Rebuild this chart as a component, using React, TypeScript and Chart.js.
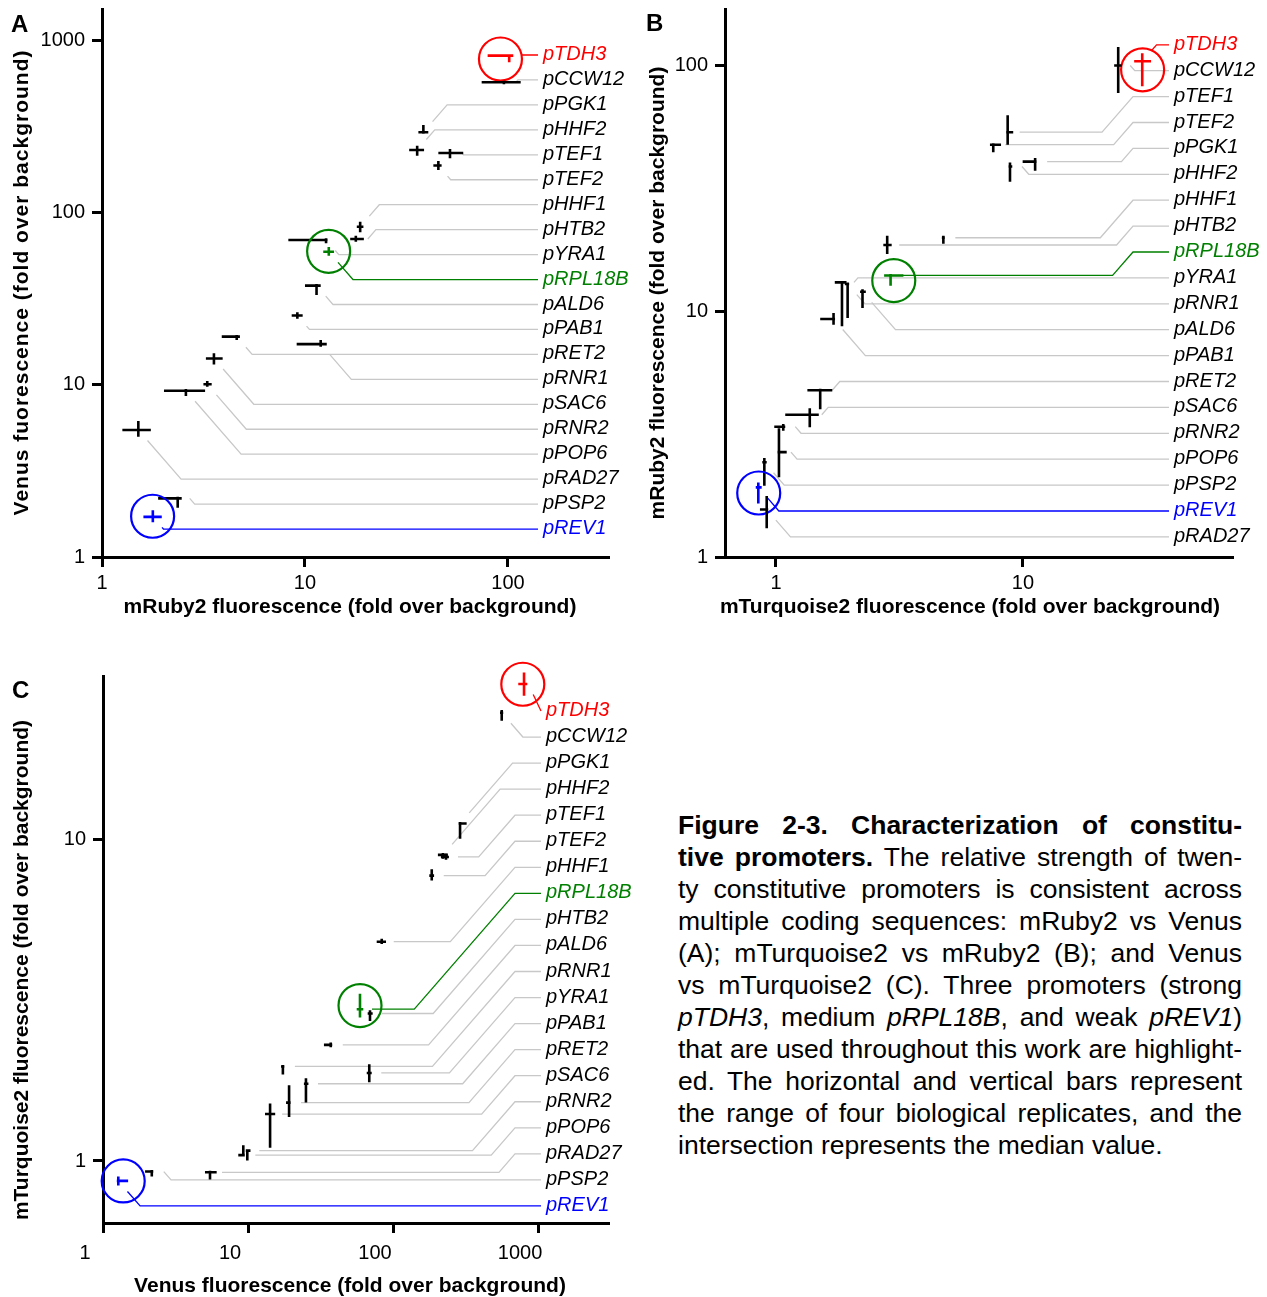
import React, { useEffect, useRef } from 'react';
import { Chart, registerables } from 'chart.js';

Chart.register(...registerables);

const FONT = '"Liberation Sans", Arial, Helvetica, sans-serif';
Chart.defaults.font.family = FONT;

const HILITE: Record<string, string> = { pTDH3: '#ff0000', pRPL18B: '#008000', pREV1: '#0000ff' };

// ---------- Panel A: x = mRuby2, y = Venus (label order) ----------
const namesA = ['pTDH3', 'pCCW12', 'pPGK1', 'pHHF2', 'pTEF1', 'pTEF2', 'pHHF1', 'pHTB2', 'pYRA1', 'pRPL18B', 'pALD6', 'pPAB1', 'pRET2', 'pRNR1', 'pSAC6', 'pRNR2', 'pPOP6', 'pRAD27', 'pPSP2', 'pREV1'];
const rubyMedA = [101.4, 95.5, 38.3, 35.7, 51.8, 45.4, 18.7, 17.8, 12.7, 13.1, 11.4, 9.17, 4.61, 11.95, 3.56, 3.3, 2.59, 1.51, 2.36, 1.78];
const rubyLoA = [79.4, 74.2, 36.2, 32.6, 45.4, 42.9, 18.0, 16.7, 8.28, 12.3, 10.0, 8.6, 3.89, 9.1, 3.25, 3.16, 2.02, 1.26, 1.89, 1.6];
const rubyHiA = [106.2, 115.5, 40.5, 38.6, 60.2, 47.1, 19.4, 19.5, 12.8, 13.9, 11.95, 9.74, 4.78, 12.8, 3.93, 3.47, 3.22, 1.74, 2.47, 1.97];
const venusMedA = [812, 569, 292, 230, 221, 187, 82.6, 70.1, 69.2, 59.1, 37.6, 25.2, 19.0, 17.2, 14.2, 10.05, 9.23, 5.46, 2.19, 1.71];
const venusLoA = [743, 554, 292, 213, 206, 176, 76.6, 67.6, 66.2, 56.1, 33.2, 24.1, 18.2, 16.6, 13.1, 9.74, 8.6, 4.99, 1.93, 1.59];
const venusHiA = [812, 579, 321, 244, 233, 199, 88.3, 73.2, 70.7, 63.0, 38.2, 26.3, 19.4, 18.2, 15.2, 10.5, 9.44, 6.16, 2.19, 1.87];

// ---------- Panel B: x = mTurquoise2, y = mRuby2 (label order) ----------
const namesB = ['pTDH3', 'pCCW12', 'pTEF1', 'pTEF2', 'pPGK1', 'pHHF2', 'pHHF1', 'pHTB2', 'pRPL18B', 'pYRA1', 'pRNR1', 'pALD6', 'pPAB1', 'pRET2', 'pSAC6', 'pRNR2', 'pPOP6', 'pPSP2', 'pREV1', 'pRAD27'];
const turqMedB = [30.4, 24.3, 8.67, 7.58, 11.2, 8.86, 4.76, 2.82, 2.91, 1.85, 1.95, 2.24, 1.71, 1.51, 1.37, 1.07, 1.028, 0.897, 0.848, 0.917];
const turqLoB = [28.2, 23.4, 8.67, 7.35, 9.97, 8.86, 4.73, 2.72, 2.74, 1.73, 1.9, 2.19, 1.51, 1.34, 1.09, 0.984, 1.028, 0.88, 0.828, 0.861];
const turqHiB = [33.0, 25.1, 9.13, 8.15, 11.3, 9.05, 4.79, 2.94, 3.28, 1.93, 1.96, 2.31, 1.73, 1.69, 1.49, 1.09, 1.105, 0.917, 0.875, 0.917];
const rubyMedB = [104, 100, 53.5, 47.6, 40.6, 38.8, 19.9, 18.6, 13.98, 13.1, 12.9, 12.0, 9.3, 4.77, 3.79, 3.39, 2.67, 2.43, 1.92, 1.56];
const rubyLoB = [82.3, 77.3, 47.6, 44.3, 37.3, 33.6, 18.8, 17.1, 12.7, 8.68, 9.38, 10.3, 8.81, 3.99, 3.37, 3.26, 2.11, 1.95, 1.65, 1.31];
const rubyHiB = [112, 119, 62.7, 47.6, 42.0, 40.3, 20.3, 20.3, 13.98, 13.1, 13.1, 12.3, 9.83, 4.83, 4.03, 3.48, 3.34, 2.53, 2.01, 1.77];

// ---------- Panel C: x = Venus, y = mTurquoise2 (label order) ----------
const namesC = ['pTDH3', 'pCCW12', 'pPGK1', 'pHHF2', 'pTEF1', 'pTEF2', 'pHHF1', 'pRPL18B', 'pHTB2', 'pALD6', 'pRNR1', 'pYRA1', 'pPAB1', 'pRET2', 'pSAC6', 'pRNR2', 'pPOP6', 'pRAD27', 'pPSP2', 'pREV1'];
const venusMedC = [801, 562, 290, 221, 232, 185, 83.6, 59.2, 69.4, 37.2, 17.4, 68.6, 25.1, 19.2, 14.2, 9.89, 9.28, 5.47, 2.17, 1.275];
const venusLoC = [731, 547, 290, 204, 214, 178, 77.2, 56.2, 66.9, 33.4, 16.9, 65.9, 24.3, 18.3, 13.1, 9.89, 8.57, 5.05, 1.95, 1.275];
const venusHiC = [844, 574, 322, 239, 243, 192, 89.5, 62.4, 72.4, 37.2, 17.8, 71.3, 26.1, 19.7, 15.4, 10.4, 9.28, 6.08, 2.17, 1.49];
const turqMedC = [30.6, 24.9, 11.25, 8.98, 8.85, 7.74, 4.82, 2.97, 2.88, 2.3, 1.97, 1.88, 1.74, 1.52, 1.4, 1.077, 1.043, 0.922, 0.927, 0.867];
const turqLoC = [28.1, 23.5, 10.08, 8.73, 8.67, 7.47, 4.74, 2.8, 2.73, 2.26, 1.86, 1.76, 1.52, 1.37, 1.1, 1.004, 1.038, 0.876, 0.895, 0.839];
const turqHiC = [33.2, 25.4, 11.3, 9.11, 9.06, 8.1, 4.92, 3.32, 2.95, 2.34, 1.99, 2.0, 1.81, 1.72, 1.51, 1.077, 1.12, 0.922, 0.927, 0.895];

// tick values
const ticksA_x = [1, 10, 100];
const ticksA_y = [1, 10, 100, 1000];
const ticksB_x = [1, 10];
const ticksB_y = [1, 10, 100];
const ticksC_x = [1, 10, 100, 1000];
const ticksC_y = [1, 10];

type Panel = {
  letter: string;
  names: string[];
  xMed: number[]; xLo: number[]; xHi: number[];
  yMed: number[]; yLo: number[]; yHi: number[];
  xMin: number; xMax: number; yMin: number; yMax: number;
  xTicks: number[]; yTicks: number[];
  xTitle: string; yTitle: string; yTitleSpacing: number;
  left: number; top: number; width: number; height: number;
  plot: { l: number; t: number; r: number; b: number };
  labelX: number; slot0: number; slotStep: number;
  far: boolean; anchorX: number;
  xTickPad: number; xLabelOffset: number;
  xTitlePos: [number, number]; yTitlePos: [number, number];
  letterPos: [number, number];
};

const panels: Panel[] = [
  {
    letter: 'A', names: namesA,
    xMed: rubyMedA, xLo: rubyLoA, xHi: rubyHiA,
    yMed: venusMedA, yLo: venusLoA, yHi: venusHiA,
    xMin: 1, xMax: 311, yMin: 1, yMax: 1515,
    xTicks: ticksA_x, yTicks: ticksA_y,
    xTitle: 'mRuby2 fluorescence (fold over background)',
    yTitle: 'Venus fuorescence (fold over background)', yTitleSpacing: 1,
    left: 0, top: 0, width: 640, height: 650,
    plot: { l: 102, t: 9, r: 608, b: 557 },
    labelX: 543, slot0: 55, slotStep: 24.95,
    far: false, anchorX: 0,
    xTickPad: 4, xLabelOffset: 0,
    xTitlePos: [350, 607], yTitlePos: [22, 282.5],
    letterPos: [11, 31.5],
  },
  {
    letter: 'B', names: namesB,
    xMed: turqMedB, xLo: turqLoB, xHi: turqHiB,
    yMed: rubyMedB, yLo: rubyLoB, yHi: rubyHiB,
    xMin: 0.6216, xMax: 70.2, yMin: 1, yMax: 169.7,
    xTicks: ticksB_x, yTicks: ticksB_y,
    xTitle: 'mTurquoise2 fluorescence (fold over background)',
    yTitle: 'mRuby2 fluorescence (fold over background)', yTitleSpacing: 0,
    left: 640, top: 0, width: 627, height: 650,
    plot: { l: 85, t: 9, r: 592, b: 557 },
    labelX: 534, slot0: 44.8, slotStep: 25.9,
    far: true, anchorX: 493,
    xTickPad: 4, xLabelOffset: 0,
    xTitlePos: [330, 607], yTitlePos: [18, 293],
    letterPos: [6, 31],
  },
  {
    letter: 'C', names: namesC,
    xMed: venusMedC, xLo: venusLoC, xHi: venusHiC,
    yMed: turqMedC, yLo: turqLoC, yHi: turqHiC,
    xMin: 1, xMax: 3039, yMin: 0.641, yMax: 32.4,
    xTicks: ticksC_x, yTicks: ticksC_y,
    xTitle: 'Venus fluorescence (fold over background)',
    yTitle: 'mTurquoise2 fluorescence (fold over background)', yTitleSpacing: 0,
    left: 0, top: 660, width: 640, height: 637,
    plot: { l: 103, t: 16, r: 608, b: 563 },
    labelX: 546, slot0: 51, slotStep: 26.05,
    far: true, anchorX: 515,
    xTickPad: 8, xLabelOffset: -18,
    xTitlePos: [350, 626], yTitlePos: [22, 310],
    letterPos: [12, 37.5],
  },
];

const SLOPE = 1.15;

function leaderPath(px: number, py: number, ly: number, p: Panel): number[][] {
  const endX = p.labelX - 5;
  const dy = ly - py;
  const ady = Math.abs(dy);
  if (ady <= 10) {
    const sx = px + 12;
    return [[sx, py], [sx + ady / SLOPE, ly], [endX, ly]];
  }
  if (p.far && dy < 0) {
    const ex = p.anchorX - ady / SLOPE;
    const sx = px + 12;
    if (ex > sx + 4) return [[sx, py], [ex, py], [p.anchorX, ly], [endX, ly]];
  }
  const sign = Math.sign(dy);
  const n = Math.sqrt(1 + SLOPE * SLOPE);
  const sx = px + 14 / n;
  const sy = py + (sign * 14 * SLOPE) / n;
  const ex = px + ady / SLOPE;
  if (ex >= endX - 4) return [[sx, sy], [endX, ly]];
  return [[sx, sy], [ex, ly], [endX, ly]];
}

function makePlugin(p: Panel) {
  return {
    id: 'panel' + p.letter,
    afterDatasetsDraw(chart: any) {
      const ctx: CanvasRenderingContext2D = chart.ctx;
      const xs = chart.scales.x;
      const ys = chart.scales.y;
      ctx.save();
      // leader lines
      p.names.forEach((name, i) => {
        const px = xs.getPixelForValue(p.xMed[i]);
        const py = ys.getPixelForValue(p.yMed[i]);
        const ly = p.slot0 + p.slotStep * i;
        const pts = leaderPath(px, py, ly, p);
        ctx.strokeStyle = HILITE[name] || '#c8c8c8';
        ctx.lineWidth = 1.3;
        ctx.lineJoin = 'miter';
        ctx.beginPath();
        pts.forEach(([x, y], k) => (k ? ctx.lineTo(x, y) : ctx.moveTo(x, y)));
        ctx.stroke();
      });
      // range bars (horizontal = x range, vertical = y range, crossing at the medians)
      p.names.forEach((name, i) => {
        const px = xs.getPixelForValue(p.xMed[i]);
        const py = ys.getPixelForValue(p.yMed[i]);
        const x0 = xs.getPixelForValue(p.xLo[i]);
        const x1 = xs.getPixelForValue(p.xHi[i]);
        const y0 = ys.getPixelForValue(p.yLo[i]);
        const y1 = ys.getPixelForValue(p.yHi[i]);
        ctx.strokeStyle = HILITE[name] || '#000000';
        ctx.lineWidth = 2.6;
        ctx.lineCap = 'butt';
        ctx.beginPath();
        ctx.moveTo(Math.min(x0, px - 1.5), py);
        ctx.lineTo(Math.max(x1, px + 1.5), py);
        ctx.moveTo(px, Math.max(y0, py + 1.5));
        ctx.lineTo(px, Math.min(y1, py - 1.5));
        ctx.stroke();
        if (HILITE[name]) {
          const cx = (x0 + x1) / 2;
          const cy = (y0 + y1) / 2;
          ctx.lineWidth = 2.2;
          ctx.beginPath();
          ctx.ellipse(cx, cy, 21.5, 21.5, 0, 0, Math.PI * 2);
          ctx.stroke();
        }
      });
      // labels
      ctx.font = `italic 20px ${FONT}`;
      ctx.textAlign = 'left';
      ctx.textBaseline = 'alphabetic';
      p.names.forEach((name, i) => {
        const ly = p.slot0 + p.slotStep * i;
        ctx.fillStyle = HILITE[name] || '#000000';
        ctx.fillText(name, p.labelX, ly + 5);
      });
      ctx.restore();
    },
    afterDraw(chart: any) {
      const ctx: any = chart.ctx;
      ctx.save();
      ctx.fillStyle = '#000';
      ctx.font = `bold 21px ${FONT}`;
      ctx.textAlign = 'center';
      ctx.textBaseline = 'middle';
      ctx.fillText(p.xTitle, p.xTitlePos[0], p.xTitlePos[1]);
      ctx.save();
      ctx.translate(p.yTitlePos[0], p.yTitlePos[1]);
      ctx.rotate(-Math.PI / 2);
      if (p.yTitleSpacing) ctx.letterSpacing = `${p.yTitleSpacing}px`;
      ctx.fillText(p.yTitle, 0, 0);
      ctx.restore();
      ctx.font = `bold 24px ${FONT}`;
      ctx.textAlign = 'left';
      ctx.textBaseline = 'alphabetic';
      ctx.fillText(p.letter, p.letterPos[0], p.letterPos[1]);
      ctx.restore();
    },
  };
}

function axisCommon(ticks: number[], pad: number, labelOffset: number) {
  return {
    type: 'logarithmic' as const,
    bounds: 'data' as const,
    afterBuildTicks: (a: any) => {
      a.ticks = ticks.map((v) => ({ value: v, major: true }));
    },
    ticks: {
      callback: (v: any) => String(v),
      autoSkip: false,
      maxRotation: 0,
      minRotation: 0,
      padding: pad,
      labelOffset,
      color: '#000',
      font: { family: FONT, size: 20 },
    },
    grid: {
      display: true,
      drawOnChartArea: false,
      drawTicks: true,
      tickLength: 10,
      tickWidth: 3,
      tickColor: '#000',
      color: '#000',
      lineWidth: 3,
    },
    border: { display: true, color: '#000', width: 3 },
    title: { display: false },
  };
}

function PanelChart({ p }: { p: Panel }) {
  const ref = useRef<HTMLCanvasElement>(null);
  useEffect(() => {
    const canvas = ref.current;
    if (!canvas) return;
    const chart = new Chart(canvas, {
      type: 'scatter',
      data: {
        datasets: [
          {
            data: p.names.map((_, i) => ({ x: p.xMed[i], y: p.yMed[i] })),
            pointRadius: 0,
            pointHoverRadius: 0,
          },
        ],
      },
      options: {
        animation: false,
        responsive: false,
        maintainAspectRatio: false,
        devicePixelRatio: 1,
        events: [],
        layout: {
          padding: { left: 0, top: p.plot.t, right: p.width - p.plot.r, bottom: 0 },
        },
        plugins: { legend: { display: false }, tooltip: { enabled: false } },
        scales: {
          x: {
            ...axisCommon(p.xTicks, p.xTickPad, p.xLabelOffset),
            position: 'bottom',
            min: p.xMin,
            max: p.xMax,
            afterDataLimits: (a: any) => {
              a.min = p.xMin;
              a.max = p.xMax;
            },
            afterFit: (a: any) => {
              a.height = p.height - p.plot.b;
              a.paddingLeft = 0;
              a.paddingRight = 0;
            },
          },
          y: {
            ...axisCommon(p.yTicks, 7, 0),
            position: 'left',
            min: p.yMin,
            max: p.yMax,
            afterDataLimits: (a: any) => {
              a.min = p.yMin;
              a.max = p.yMax;
            },
            afterFit: (a: any) => {
              a.width = p.plot.l;
              a.paddingTop = 0;
              a.paddingBottom = 0;
            },
          },
        },
      } as any,
      plugins: [makePlugin(p)],
    });
    return () => chart.destroy();
  }, [p]);
  return (
    <canvas
      ref={ref}
      width={p.width}
      height={p.height}
      style={{ position: 'absolute', left: p.left, top: p.top, width: p.width, height: p.height }}
    />
  );
}

const lineStyle: React.CSSProperties = { textAlign: 'justify', textAlignLast: 'justify' as any, height: 32 };

function Caption() {
  return (
    <div
      style={{
        position: 'absolute',
        left: 678,
        top: 809,
        width: 564,
        fontFamily: FONT,
        fontSize: 26.5,
        lineHeight: '32px',
        color: '#000',
      }}
    >
      <div style={lineStyle}><b>Figure 2-3. Characterization of constitu-</b></div>
      <div style={lineStyle}><b>tive promoters.</b> The relative strength of twen-</div>
      <div style={lineStyle}>ty constitutive promoters is consistent across</div>
      <div style={lineStyle}>multiple coding sequences: mRuby2 vs Venus</div>
      <div style={lineStyle}>(A); mTurquoise2 vs mRuby2 (B); and Venus</div>
      <div style={lineStyle}>vs mTurquoise2 (C). Three promoters (strong</div>
      <div style={lineStyle}><i>pTDH3</i>, medium <i>pRPL18B</i>, and weak <i>pREV1</i>)</div>
      <div style={lineStyle}>that are used throughout this work are highlight-</div>
      <div style={lineStyle}>ed. The horizontal and vertical bars represent</div>
      <div style={lineStyle}>the range of four biological replicates, and the</div>
      <div style={{ textAlign: 'left', height: 32 }}>intersection represents the median value.</div>
    </div>
  );
}

export default function App() {
  return (
    <div
      style={{
        position: 'absolute',
        left: 0,
        top: 0,
        width: 1267,
        height: 1297,
        background: '#ffffff',
        overflow: 'hidden',
      }}
    >
      {panels.map((p) => (
        <PanelChart key={p.letter} p={p} />
      ))}
      <Caption />
    </div>
  );
}
